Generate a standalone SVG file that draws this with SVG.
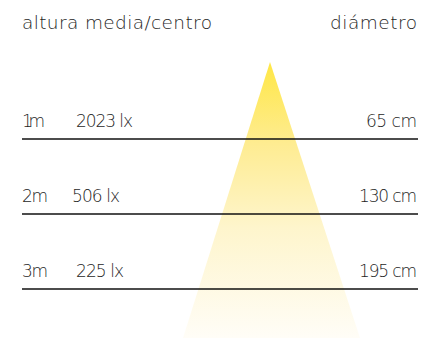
<svg xmlns="http://www.w3.org/2000/svg" width="423" height="340" viewBox="0 0 423 340">
<defs>
<linearGradient id="beam" x1="0" y1="62" x2="0" y2="338" gradientUnits="userSpaceOnUse">
<stop offset="0" stop-color="#FFE745"/>
<stop offset="0.3" stop-color="#FEEC92"/>
<stop offset="0.6" stop-color="#FEF5CC"/>
<stop offset="1" stop-color="#FFFDF7"/>
</linearGradient>
</defs>
<style>
text{font-family:"DejaVu Sans","Liberation Sans",sans-serif;font-weight:200;fill:#1e1e1e;font-size:17px}
.h{font-size:18.5px}
.r{text-anchor:end}
.ln{stroke:#111;stroke-width:1.5}
</style>
<rect width="423" height="340" fill="#fff"/>
<g id="beam-cone">
<polygon points="270,62 183,338 360,338" fill="url(#beam)"/>
</g>
<g id="connectors">
<line class="ln" x1="22" y1="139" x2="418" y2="139" stroke="#555" stroke-width="2"/>
<line class="ln" x1="22" y1="214" x2="418" y2="214"/>
<line class="ln" x1="22" y1="289" x2="418" y2="289"/>
</g>
<g id="header">
<text x="22" y="29" class="h" textLength="190">altura media/centro</text>
<text x="417" y="29" class="h r" textLength="87">diámetro</text>
</g>
<g id="row-1m">
<text x="22" y="127" textLength="23">1m</text>
<text x="76" y="127" textLength="57">2023 lx</text>
<text x="417" y="127" class="r" textLength="51">65 cm</text>
</g>
<g id="row-2m">
<text x="22" y="202" textLength="26">2m</text>
<text x="72" y="202" textLength="48">506 lx</text>
<text x="417" y="202" class="r" textLength="58">130 cm</text>
</g>
<g id="row-3m">
<text x="22" y="277" textLength="26">3m</text>
<text x="76" y="277" textLength="48">225 lx</text>
<text x="417" y="277" class="r" textLength="58">195 cm</text>
</g>
</svg>
